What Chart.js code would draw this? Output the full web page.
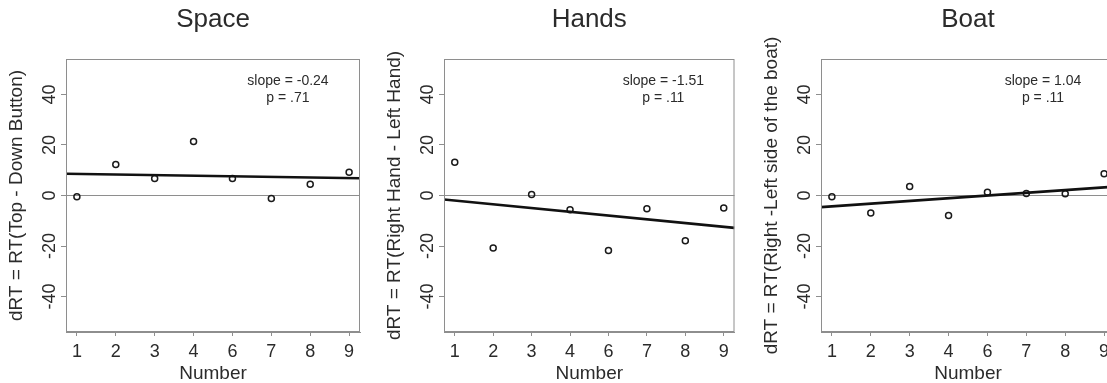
<!DOCTYPE html>
<html>
<head>
<meta charset="utf-8">
<script src="https://cdn.jsdelivr.net/npm/chart.js@4.4.1/dist/chart.umd.min.js"></script>
<style>
  html, body { margin: 0; padding: 0; background: #fff; }
  body { width: 1107px; height: 383px; overflow: hidden; position: relative; }
  canvas { position: absolute; top: 0; }
</style>
</head>
<body>
<canvas id="spaceChart"></canvas>
<canvas id="handsChart"></canvas>
<canvas id="boatChart"></canvas>
<script>
// Data
const numberLabels = ['1', '2', '3', '4', '6', '7', '8', '9'];
const positions = [1, 2, 3, 4, 5, 6, 7, 8];
const yTicks = [-40, -20, 0, 20, 40];

const spaceValues = [-0.5, 12.3, 6.7, 21.4, 6.7, -1.2, 4.5, 9.2];
const handsValues = [13.2, -20.8, 0.4, -5.6, -21.8, -5.2, -17.9, -4.9];
const boatValues = [-0.5, -6.9, 3.6, -7.9, 1.3, 0.8, 0.7, 8.6];

// regression line, value at each end of the x range
const fitX = [0.72, 8.28];
const spaceFit = [8.6, 6.8];
const handsFit = [-1.6, -12.8];
const boatFit = [-4.6, 3.5];

const panelTitles = ['Space', 'Hands', 'Boat'];
const yTitles = [
    'dRT = RT(Top - Down Button)',
    'dRT = RT(Right Hand - Left Hand)',
    'dRT = RT(Right -Left side of the boat)'
];
const slopeTexts = ['slope = -0.24', 'slope = -1.51', 'slope = 1.04'];
const pTexts = ['p = .71', 'p = .11', 'p = .11'];

// Style
const FONT = "'Liberation Sans', Arial, sans-serif";
const TEXT = '#2b2b2b';
const GRAY = '#8e8e8e';
const Y_AXIS_W = 66;
const PLOT_W = 294;

const panels = [
    { id: 'spaceChart', left: 0, rightPad: 8, values: spaceValues, fit: spaceFit },
    { id: 'handsChart', left: 378, rightPad: 2, values: handsValues, fit: handsFit },
    { id: 'boatChart', left: 755, rightPad: 8, values: boatValues, fit: boatFit }
];

function makeChart(panel, i) {
    const canvas = document.getElementById(panel.id);
    canvas.width = Y_AXIS_W + PLOT_W + panel.rightPad;
    canvas.height = 383;
    canvas.style.left = panel.left + 'px';

    const panelText = {
        id: 'panelText',
        afterDraw(chart) {
            const { ctx, chartArea } = chart;
            const yScale = chart.scales.y;
            ctx.save();

            // plot box
            ctx.strokeStyle = GRAY;
            ctx.lineWidth = 1;
            ctx.strokeRect(chartArea.left + 0.5, chartArea.top + 0.5,
                chartArea.right - chartArea.left - 1, chartArea.bottom - chartArea.top - 1);

            ctx.fillStyle = TEXT;

            // panel title
            ctx.font = '26px ' + FONT;
            ctx.textAlign = 'center';
            ctx.textBaseline = 'middle';
            ctx.fillText(panelTitles[i], (chartArea.left + chartArea.right) / 2, 20);

            // rotated y tick labels (R style)
            ctx.font = '18px ' + FONT;
            yTicks.forEach(v => {
                const py = yScale.getPixelForValue(v);
                ctx.save();
                ctx.translate(chartArea.left - 16, py);
                ctx.rotate(-Math.PI / 2);
                ctx.fillText(String(v), 0, 0);
                ctx.restore();
            });

            // slope / p annotation
            ctx.font = '14px ' + FONT;
            const tx = chartArea.left + (chartArea.right - chartArea.left) * 0.755;
            ctx.fillText(slopeTexts[i], tx, chartArea.top + 22);
            ctx.fillText(pTexts[i], tx, chartArea.top + 39);

            ctx.restore();
        }
    };

    return new Chart(canvas, {
        type: 'scatter',
        data: {
            datasets: [
                {
                    type: 'line',
                    data: fitX.map((x, k) => ({ x: x, y: panel.fit[k] })),
                    borderColor: '#111',
                    borderWidth: 2.6,
                    pointRadius: 0,
                    fill: false
                },
                {
                    data: positions.map((x, k) => ({ x: x, y: panel.values[k] })),
                    pointRadius: 3,
                    pointBorderWidth: 1.5,
                    borderColor: '#1a1a1a',
                    backgroundColor: 'rgba(0,0,0,0)'
                }
            ]
        },
        options: {
            responsive: false,
            animation: false,
            events: [],
            layout: { padding: { left: 0, top: 59, right: panel.rightPad, bottom: 0 } },
            plugins: {
                legend: { display: false },
                tooltip: { enabled: false },
                title: { display: false }
            },
            scales: {
                x: {
                    type: 'linear',
                    min: fitX[0],
                    max: fitX[1],
                    afterBuildTicks: scale => {
                        scale.ticks = positions.map(v => ({ value: v }));
                    },
                    afterFit: scale => { scale.height = 51; },
                    ticks: {
                        callback: (value, index) => numberLabels[index],
                        color: TEXT,
                        font: { family: FONT, size: 18 },
                        padding: 5,
                        maxRotation: 0,
                        autoSkip: false
                    },
                    grid: {
                        drawOnChartArea: false,
                        tickLength: 4,
                        tickColor: GRAY
                    },
                    border: { display: true, color: GRAY },
                    title: {
                        display: true,
                        text: 'Number',
                        color: TEXT,
                        font: { family: FONT, size: 19, lineHeight: 1 },
                        padding: { top: 0, bottom: 0 }
                    }
                },
                y: {
                    type: 'linear',
                    min: -54,
                    max: 54,
                    afterBuildTicks: scale => {
                        scale.ticks = yTicks.map(v => ({ value: v }));
                    },
                    afterFit: scale => { scale.width = Y_AXIS_W; },
                    ticks: { display: false },
                    grid: {
                        drawOnChartArea: true,
                        color: ctx => (ctx.tick && ctx.tick.value === 0 ? GRAY : 'rgba(0,0,0,0)'),
                        tickColor: GRAY,
                        tickLength: 5,
                        lineWidth: 1
                    },
                    border: { display: true, color: GRAY },
                    title: {
                        display: true,
                        text: yTitles[i],
                        color: TEXT,
                        font: { family: FONT, size: 19, lineHeight: 1.2 },
                        padding: { top: 5, bottom: 0 }
                    }
                }
            }
        },
        plugins: [panelText]
    });
}

panels.forEach(makeChart);
</script>
</body>
</html>
